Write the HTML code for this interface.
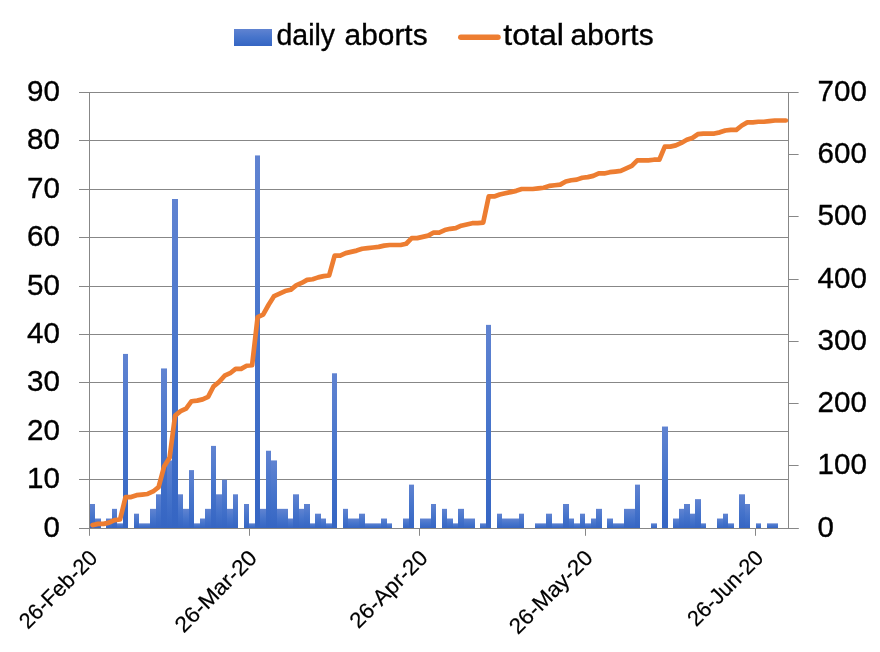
<!DOCTYPE html>
<html><head><meta charset="utf-8"><title>aborts</title>
<style>
html,body{margin:0;padding:0;background:#fff;}
body{width:880px;height:652px;overflow:hidden;}
svg{display:block;will-change:transform;}
text{font-family:"Liberation Sans",sans-serif;fill:#000;stroke:#000;stroke-width:0.35px;}
.xl{stroke-width:0.2px;}
</style></head><body>
<svg width="880" height="652" viewBox="0 0 880 652">
<defs>
<linearGradient id="bg" x1="0" y1="0" x2="0" y2="1">
<stop offset="0" stop-color="#6083D1"/><stop offset="0.5" stop-color="#4674CB"/><stop offset="1" stop-color="#3565C3"/>
</linearGradient>
</defs>
<rect width="880" height="652" fill="#fff"/>

<g stroke="#878787" stroke-width="1" fill="none">
<line x1="79" y1="528.50" x2="788.60" y2="528.50"/>
<line x1="79" y1="479.50" x2="788.60" y2="479.50"/>
<line x1="79" y1="431.50" x2="788.60" y2="431.50"/>
<line x1="79" y1="382.50" x2="788.60" y2="382.50"/>
<line x1="79" y1="334.50" x2="788.60" y2="334.50"/>
<line x1="79" y1="286.50" x2="788.60" y2="286.50"/>
<line x1="79" y1="237.50" x2="788.60" y2="237.50"/>
<line x1="79" y1="189.50" x2="788.60" y2="189.50"/>
<line x1="79" y1="140.50" x2="788.60" y2="140.50"/>
<line x1="79" y1="92.50" x2="788.60" y2="92.50"/>
<line x1="89.50" y1="92.00" x2="89.50" y2="528.70"/>
<line x1="788.50" y1="92.00" x2="788.50" y2="528.70"/>
<line x1="788.60" y1="528.50" x2="798.6" y2="528.50"/>
<line x1="788.60" y1="465.50" x2="798.6" y2="465.50"/>
<line x1="788.60" y1="403.50" x2="798.6" y2="403.50"/>
<line x1="788.60" y1="341.50" x2="798.6" y2="341.50"/>
<line x1="788.60" y1="279.50" x2="798.6" y2="279.50"/>
<line x1="788.60" y1="216.50" x2="798.6" y2="216.50"/>
<line x1="788.60" y1="154.50" x2="798.6" y2="154.50"/>
<line x1="788.60" y1="92.50" x2="798.6" y2="92.50"/>
<line x1="89.50" y1="528.20" x2="89.50" y2="535.8"/>
<line x1="249.50" y1="528.20" x2="249.50" y2="535.8"/>
<line x1="419.50" y1="528.20" x2="419.50" y2="535.8"/>
<line x1="585.50" y1="528.20" x2="585.50" y2="535.8"/>
<line x1="755.50" y1="528.20" x2="755.50" y2="535.8"/>
</g>
<g fill="url(#bg)">
<rect x="90" y="503.99" width="5" height="24.21"/>
<rect x="95" y="518.52" width="6" height="9.68"/>
<rect x="106" y="518.52" width="6" height="9.68"/>
<rect x="112" y="508.84" width="5" height="19.36"/>
<rect x="117" y="523.36" width="6" height="4.84"/>
<rect x="123" y="353.92" width="5" height="174.28"/>
<rect x="134" y="513.68" width="5" height="14.52"/>
<rect x="139" y="523.36" width="6" height="4.84"/>
<rect x="145" y="523.36" width="5" height="4.84"/>
<rect x="150" y="508.84" width="6" height="19.36"/>
<rect x="156" y="494.31" width="5" height="33.89"/>
<rect x="161" y="368.44" width="6" height="159.76"/>
<rect x="167" y="460.42" width="5" height="67.78"/>
<rect x="172" y="199.00" width="6" height="329.20"/>
<rect x="178" y="494.31" width="5" height="33.89"/>
<rect x="183" y="508.84" width="6" height="19.36"/>
<rect x="189" y="470.11" width="5" height="58.09"/>
<rect x="194" y="523.36" width="6" height="4.84"/>
<rect x="200" y="518.52" width="5" height="9.68"/>
<rect x="205" y="508.84" width="6" height="19.36"/>
<rect x="211" y="445.90" width="5" height="82.30"/>
<rect x="216" y="494.31" width="6" height="33.89"/>
<rect x="222" y="479.79" width="5" height="48.41"/>
<rect x="227" y="508.84" width="6" height="19.36"/>
<rect x="233" y="494.31" width="5" height="33.89"/>
<rect x="244" y="503.99" width="5" height="24.21"/>
<rect x="249" y="523.36" width="6" height="4.84"/>
<rect x="255" y="155.43" width="5" height="372.77"/>
<rect x="260" y="508.84" width="6" height="19.36"/>
<rect x="266" y="450.74" width="5" height="77.46"/>
<rect x="271" y="460.42" width="6" height="67.78"/>
<rect x="277" y="508.84" width="5" height="19.36"/>
<rect x="282" y="508.84" width="6" height="19.36"/>
<rect x="288" y="518.52" width="5" height="9.68"/>
<rect x="293" y="494.31" width="6" height="33.89"/>
<rect x="299" y="508.84" width="5" height="19.36"/>
<rect x="304" y="503.99" width="6" height="24.21"/>
<rect x="310" y="523.36" width="5" height="4.84"/>
<rect x="315" y="513.68" width="6" height="14.52"/>
<rect x="321" y="518.52" width="5" height="9.68"/>
<rect x="326" y="523.36" width="6" height="4.84"/>
<rect x="332" y="373.28" width="5" height="154.92"/>
<rect x="343" y="508.84" width="5" height="19.36"/>
<rect x="348" y="518.52" width="6" height="9.68"/>
<rect x="354" y="518.52" width="5" height="9.68"/>
<rect x="359" y="513.68" width="6" height="14.52"/>
<rect x="365" y="523.36" width="5" height="4.84"/>
<rect x="370" y="523.36" width="6" height="4.84"/>
<rect x="376" y="523.36" width="5" height="4.84"/>
<rect x="381" y="518.52" width="6" height="9.68"/>
<rect x="387" y="523.36" width="5" height="4.84"/>
<rect x="403" y="518.52" width="6" height="9.68"/>
<rect x="409" y="484.63" width="5" height="43.57"/>
<rect x="420" y="518.52" width="5" height="9.68"/>
<rect x="425" y="518.52" width="6" height="9.68"/>
<rect x="431" y="503.99" width="5" height="24.21"/>
<rect x="442" y="508.84" width="5" height="19.36"/>
<rect x="447" y="518.52" width="6" height="9.68"/>
<rect x="453" y="523.36" width="5" height="4.84"/>
<rect x="458" y="508.84" width="6" height="19.36"/>
<rect x="464" y="518.52" width="5" height="9.68"/>
<rect x="469" y="518.52" width="6" height="9.68"/>
<rect x="480" y="523.36" width="6" height="4.84"/>
<rect x="486" y="324.87" width="5" height="203.33"/>
<rect x="497" y="513.68" width="5" height="14.52"/>
<rect x="502" y="518.52" width="6" height="9.68"/>
<rect x="508" y="518.52" width="5" height="9.68"/>
<rect x="513" y="518.52" width="6" height="9.68"/>
<rect x="519" y="513.68" width="5" height="14.52"/>
<rect x="535" y="523.36" width="6" height="4.84"/>
<rect x="541" y="523.36" width="5" height="4.84"/>
<rect x="546" y="513.68" width="6" height="14.52"/>
<rect x="552" y="523.36" width="6" height="4.84"/>
<rect x="558" y="523.36" width="5" height="4.84"/>
<rect x="563" y="503.99" width="6" height="24.21"/>
<rect x="569" y="518.52" width="5" height="9.68"/>
<rect x="574" y="523.36" width="6" height="4.84"/>
<rect x="580" y="513.68" width="5" height="14.52"/>
<rect x="585" y="523.36" width="6" height="4.84"/>
<rect x="591" y="518.52" width="5" height="9.68"/>
<rect x="596" y="508.84" width="6" height="19.36"/>
<rect x="607" y="518.52" width="6" height="9.68"/>
<rect x="613" y="523.36" width="5" height="4.84"/>
<rect x="618" y="523.36" width="6" height="4.84"/>
<rect x="624" y="508.84" width="5" height="19.36"/>
<rect x="629" y="508.84" width="6" height="19.36"/>
<rect x="635" y="484.63" width="5" height="43.57"/>
<rect x="651" y="523.36" width="6" height="4.84"/>
<rect x="662" y="426.54" width="6" height="101.66"/>
<rect x="673" y="518.52" width="6" height="9.68"/>
<rect x="679" y="508.84" width="5" height="19.36"/>
<rect x="684" y="503.99" width="6" height="24.21"/>
<rect x="690" y="513.68" width="5" height="14.52"/>
<rect x="695" y="499.15" width="6" height="29.05"/>
<rect x="701" y="523.36" width="5" height="4.84"/>
<rect x="717" y="518.52" width="6" height="9.68"/>
<rect x="723" y="513.68" width="5" height="14.52"/>
<rect x="728" y="523.36" width="6" height="4.84"/>
<rect x="739" y="494.31" width="6" height="33.89"/>
<rect x="745" y="503.99" width="5" height="24.21"/>
<rect x="756" y="523.36" width="5" height="4.84"/>
<rect x="767" y="523.36" width="5" height="4.84"/>
<rect x="772" y="523.36" width="6" height="4.84"/>
</g>
<line x1="79" y1="528.50" x2="798.6" y2="528.50" stroke="#878787" stroke-width="1"/>
<line x1="89.50" y1="92.00" x2="89.50" y2="528.70" stroke="#878787" stroke-width="1"/>
<polyline points="92.55,525.09 98.05,523.84 103.56,523.84 109.06,522.60 114.56,520.11 120.06,519.49 125.57,497.08 131.07,497.08 136.57,495.21 142.07,494.59 147.57,493.97 153.08,491.48 158.58,487.12 164.08,466.58 169.58,457.87 175.09,415.54 180.59,411.18 186.09,408.69 191.59,401.22 197.10,400.60 202.60,399.36 208.10,396.87 213.60,386.29 219.11,381.93 224.61,375.71 230.11,373.22 235.61,368.86 241.11,368.86 246.62,365.75 252.12,365.12 257.62,317.20 263.12,314.71 268.63,304.75 274.13,296.03 279.63,293.54 285.13,291.05 290.64,289.81 296.14,285.45 301.64,282.96 307.14,279.85 312.65,279.23 318.15,277.36 323.65,276.12 329.15,275.49 334.66,255.58 340.16,255.58 345.66,253.09 351.16,251.84 356.66,250.60 362.17,248.73 367.67,248.11 373.17,247.48 378.67,246.86 384.18,245.62 389.68,245.00 395.18,245.00 400.68,245.00 406.19,243.75 411.69,238.15 417.19,238.15 422.69,236.90 428.20,235.66 433.70,232.55 439.20,232.55 444.70,230.06 450.20,228.81 455.71,228.19 461.21,225.70 466.71,224.45 472.21,223.21 477.72,223.21 483.22,222.59 488.72,196.45 494.22,196.45 499.73,194.58 505.23,193.33 510.73,192.09 516.23,190.84 521.74,188.98 527.24,188.98 532.74,188.98 538.24,188.35 543.74,187.73 549.25,185.86 554.75,185.24 560.25,184.62 565.75,181.51 571.26,180.26 576.76,179.64 582.26,177.77 587.76,177.15 593.27,175.91 598.77,173.42 604.27,173.42 609.77,172.17 615.28,171.55 620.78,170.93 626.28,168.44 631.78,165.95 637.29,160.34 642.79,160.34 648.29,160.34 653.79,159.72 659.29,159.72 664.80,146.65 670.30,146.65 675.80,145.41 681.30,142.92 686.81,139.80 692.31,137.94 697.81,134.20 703.31,133.58 708.82,133.58 714.32,133.58 719.82,132.34 725.32,130.47 730.83,129.85 736.33,129.85 741.83,125.49 747.33,122.38 752.83,122.38 758.34,121.75 763.84,121.75 769.34,121.13 774.84,120.51 780.35,120.51 785.85,120.51" fill="none" stroke="#ED7D31" stroke-width="4.7" stroke-linejoin="round" stroke-linecap="round"/>
<text x="60" y="536.70" font-size="29.3" text-anchor="end" textLength="16.4" lengthAdjust="spacingAndGlyphs">0</text>
<text x="60" y="488.29" font-size="29.3" text-anchor="end" textLength="32.9" lengthAdjust="spacingAndGlyphs">10</text>
<text x="60" y="439.88" font-size="29.3" text-anchor="end" textLength="32.9" lengthAdjust="spacingAndGlyphs">20</text>
<text x="60" y="391.47" font-size="29.3" text-anchor="end" textLength="32.9" lengthAdjust="spacingAndGlyphs">30</text>
<text x="60" y="343.06" font-size="29.3" text-anchor="end" textLength="32.9" lengthAdjust="spacingAndGlyphs">40</text>
<text x="60" y="294.64" font-size="29.3" text-anchor="end" textLength="32.9" lengthAdjust="spacingAndGlyphs">50</text>
<text x="60" y="246.23" font-size="29.3" text-anchor="end" textLength="32.9" lengthAdjust="spacingAndGlyphs">60</text>
<text x="60" y="197.82" font-size="29.3" text-anchor="end" textLength="32.9" lengthAdjust="spacingAndGlyphs">70</text>
<text x="60" y="149.41" font-size="29.3" text-anchor="end" textLength="32.9" lengthAdjust="spacingAndGlyphs">80</text>
<text x="60" y="101.00" font-size="29.3" text-anchor="end" textLength="32.9" lengthAdjust="spacingAndGlyphs">90</text>
<text x="817.6" y="536.70" font-size="29.3" text-anchor="start" textLength="16.4" lengthAdjust="spacingAndGlyphs">0</text>
<text x="817.6" y="474.46" font-size="29.3" text-anchor="start" textLength="49.3" lengthAdjust="spacingAndGlyphs">100</text>
<text x="817.6" y="412.21" font-size="29.3" text-anchor="start" textLength="49.3" lengthAdjust="spacingAndGlyphs">200</text>
<text x="817.6" y="349.97" font-size="29.3" text-anchor="start" textLength="49.3" lengthAdjust="spacingAndGlyphs">300</text>
<text x="817.6" y="287.73" font-size="29.3" text-anchor="start" textLength="49.3" lengthAdjust="spacingAndGlyphs">400</text>
<text x="817.6" y="225.49" font-size="29.3" text-anchor="start" textLength="49.3" lengthAdjust="spacingAndGlyphs">500</text>
<text x="817.6" y="163.24" font-size="29.3" text-anchor="start" textLength="49.3" lengthAdjust="spacingAndGlyphs">600</text>
<text x="817.6" y="101.00" font-size="29.3" text-anchor="start" textLength="49.3" lengthAdjust="spacingAndGlyphs">700</text>
<text class="xl" transform="translate(98.80,559.20) rotate(-45)" font-size="22" text-anchor="end" textLength="100.0" lengthAdjust="spacingAndGlyphs">26-Feb-20</text>
<text class="xl" transform="translate(258.37,559.20) rotate(-45)" font-size="22" text-anchor="end" textLength="105.5" lengthAdjust="spacingAndGlyphs">26-Mar-20</text>
<text class="xl" transform="translate(428.94,559.20) rotate(-45)" font-size="22" text-anchor="end" textLength="99.6" lengthAdjust="spacingAndGlyphs">26-Apr-20</text>
<text class="xl" transform="translate(594.01,559.20) rotate(-45)" font-size="22" text-anchor="end" textLength="107.6" lengthAdjust="spacingAndGlyphs">26-May-20</text>
<text class="xl" transform="translate(764.59,559.20) rotate(-45)" font-size="22" text-anchor="end" textLength="96.7" lengthAdjust="spacingAndGlyphs">26-Jun-20</text>
<rect x="234" y="29" width="38" height="17" fill="url(#bg)"/>
<text x="276.5" y="45" font-size="29" textLength="58.6" lengthAdjust="spacingAndGlyphs">daily</text>
<text x="344.6" y="45" font-size="29" textLength="83" lengthAdjust="spacingAndGlyphs">aborts</text>
<line x1="460.8" y1="37.2" x2="498" y2="37.2" stroke="#ED7D31" stroke-width="5.5" stroke-linecap="round"/>
<text x="503.3" y="45" font-size="29" textLength="60.7" lengthAdjust="spacingAndGlyphs">total</text>
<text x="570.6" y="45" font-size="29" textLength="83" lengthAdjust="spacingAndGlyphs">aborts</text>
</svg></body></html>
